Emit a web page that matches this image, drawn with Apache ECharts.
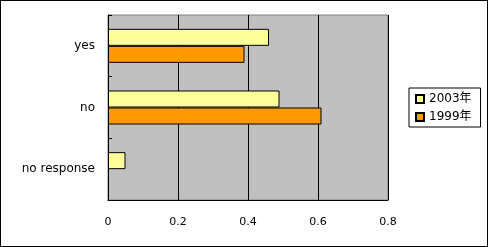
<!DOCTYPE html>
<html><head><meta charset="utf-8">
<script src="https://cdn.jsdelivr.net/npm/echarts@6/dist/echarts.min.js"></script>
<style>html,body{margin:0;padding:0;background:#fff}#c{width:488px;height:247px;box-sizing:border-box;border:1px solid #000}</style>
</head><body><div id="c"></div>
<script>
var categories = ['yes', 'no', 'no response'];
var seriesNames = ['2003年', '1999年'];
var values2003 = [0.46, 0.49, 0.05];
var values1999 = [0.39, 0.61, 0];
var xTicks = [0, 0.2, 0.4, 0.6, 0.8];

function toItems(arr) {
  return arr.map(function (v) { return v === 0 ? {value: v, itemStyle: {borderWidth: 0, opacity: 0}} : v; });
}

var chart = echarts.init(document.getElementById('c'), null, {renderer: 'canvas'});
var font = '"DejaVu Sans", "Noto Sans CJK JP", sans-serif';
chart.setOption({
  animation: false,
  grid: {left: 107, top: 14, width: 280, height: 185, show: true, backgroundColor: '#C0C0C0', borderColor: '#808080', borderWidth: 1},
  legend: {
    orient: 'vertical', left: 408, top: 87, padding: [5, 9, 4, 6],
    borderColor: '#000', borderWidth: 1, itemWidth: 8, itemHeight: 8, itemGap: 6,
    textStyle: {fontFamily: font, fontSize: 12, color: '#000', padding: [0, 0, 0, 0]},
    data: seriesNames.map(function(n){return {name: n, icon: 'rect'};})
  },
  xAxis: {
    type: 'value', min: 0, max: 0.8, interval: 0.2,
    axisLine: {show: true, lineStyle: {color: '#000'}},
    axisTick: {show: false},
    splitLine: {show: true, lineStyle: {color: '#000', width: 1}},
    axisLabel: {margin: 17, fontFamily: font, fontSize: 11, color: '#000',
      formatter: function(v){ var r = Math.round(v*10)/10; return xTicks.indexOf(r) >= 0 ? String(r) : ''; }}
  },
  yAxis: {
    type: 'category', data: categories, inverse: true,
    axisLine: {show: true, lineStyle: {color: '#000'}},
    axisTick: {show: true, inside: true, length: 4, lineStyle: {color: '#000'}},
    axisLabel: {margin: 13, fontFamily: font, fontSize: 12, color: '#000', padding: [3, 0, 0, 0]}
  },
  series: [
    {name: seriesNames[0], type: 'bar', data: toItems(values2003), barWidth: 17, barGap: '0%',
      itemStyle: {color: '#FFFF99', borderColor: '#000', borderWidth: 1}},
    {name: seriesNames[1], type: 'bar', data: toItems(values1999), barWidth: 17, barGap: '0%',
      itemStyle: {color: '#FF9900', borderColor: '#000', borderWidth: 1}}
  ]
});
</script></body></html>
